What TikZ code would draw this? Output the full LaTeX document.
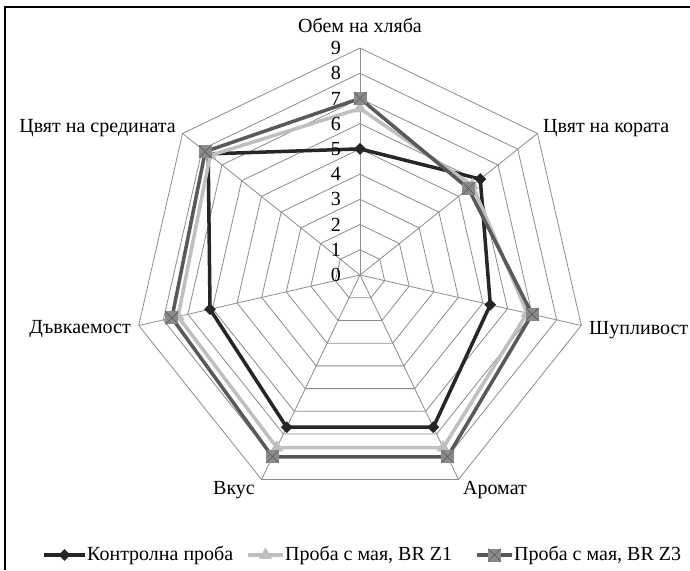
\documentclass[tikz,border=0pt]{standalone}
\usepackage{fontspec}
\setmainfont{Liberation Serif}
\usetikzlibrary{shapes.geometric}
\definecolor{ctrl}{HTML}{262626}
\definecolor{zone}{HTML}{BFBFBF}
\definecolor{zthree}{HTML}{595959}
\definecolor{zmark}{HTML}{8A8A8A}
\definecolor{gridc}{HTML}{8C8C8C}
\tikzset{
  gridline/.style={draw=gridc, line width=0.8pt},
  series/.style={line width=3.5pt, line join=round},
  lbl/.style={font=\fontsize{20}{23}\selectfont, inner sep=0pt},
  diam/.style={diamond, fill=ctrl, minimum size=12pt, inner sep=0pt},
  trim/.style={regular polygon, regular polygon sides=3, fill=zone, minimum size=15pt, inner sep=0pt},
  sqm/.style={rectangle, fill=zmark, minimum size=13pt, inner sep=0pt,
    path picture={\draw[zthree, line width=0.6pt]
      (path picture bounding box.north west) -- (path picture bounding box.south east)
      (path picture bounding box.south west) -- (path picture bounding box.north east);}}
}
\begin{document}
\begin{tikzpicture}[x=1pt,y=1pt]
\useasboundingbox (0,0) rectangle (690,570);
\fill[white] (0,0) rectangle (690,570);
\draw[line width=2pt] (5,0) -- (5,563) -- (690,563);
\begin{scope}[shift={(360,295)}]
  \coordinate (O) at (0,0);
  % grid polygons
  \foreach \l in {1,...,9}{
    \draw[gridline] (90:{\l*25.22})
      \foreach \k in {1,...,6}{ -- ({90-\k*360/7}:{\l*25.22}) } -- cycle;
  }
  \foreach \k in {0,...,6}{
    \coordinate (ax\k) at ({90-\k*360/7}:{9*25.22});
    \draw[gridline] (O) -- (ax\k);
  }
  % data coordinates
  \foreach \k/\v in {0/5,1/6.1,2/5.3,3/6.7,4/6.7,5/6.1,6/7.7}
    \coordinate (c\k) at ({90-\k*360/7}:{\v*25.22});
  \foreach \k/\v in {0/6.6,1/5.7,2/6.8,3/7.6,4/7.6,5/7.4,6/7.6}
    \coordinate (a\k) at ({90-\k*360/7}:{\v*25.22});
  \foreach \k/\v in {0/7.0,1/5.5,2/7.0,3/8.0,4/8.0,5/7.65,6/7.85}
    \coordinate (b\k) at ({90-\k*360/7}:{\v*25.22});
  % series
  \draw[series, ctrl] (c0) -- (c1) -- (c2) -- (c3) -- (c4) -- (c5) -- (c6) -- cycle;
  \foreach \k in {0,...,6} \node[diam] (mc\k) at (c\k) {};
  \draw[series, zone] (a0) -- (a1) -- (a2) -- (a3) -- (a4) -- (a5) -- (a6) -- cycle;
  \foreach \k in {0,...,6} \node[trim] (ma\k) at (a\k) {};
  \draw[series, zthree] (b0) -- (b1) -- (b2) -- (b3) -- (b4) -- (b5) -- (b6) -- cycle;
  \foreach \k in {0,...,6} \node[sqm] (mb\k) at (b\k) {};
\end{scope}
% tick labels
\foreach \l in {0,...,9}
  \node[lbl, anchor=east] (t\l) at (341, {295+\l*25.22}) {\l};
% axis labels
\node[lbl] (l0) at (360,545) {Обем на хляба};
\node[lbl, anchor=west] (l1) at (543,442) {Цвят на кората};
\node[lbl, anchor=west] (l2) at (589,240) {Шупливост};
\node[lbl] (l3) at (495,80) {Аромат};
\node[lbl] (l4) at (234,80) {Вкус};
\node[lbl, anchor=east] (l5) at (131,241) {Дъвкаемост};
\node[lbl, anchor=east] (l6) at (176,442) {Цвят на средината};
% legend
\coordinate (g1a) at (44,15); \coordinate (g1b) at (85,15);
\draw[series, ctrl] (g1a) -- (g1b);
\node[diam] (gm1) at (64.5,15) {};
\node[lbl, anchor=west] (gt1) at (87,15) {Контролна проба};
\coordinate (g2a) at (248,15); \coordinate (g2b) at (283,15);
\draw[series, zone] (g2a) -- (g2b);
\node[trim] (gm2) at (265.5,15) {};
\node[lbl, anchor=west] (gt2) at (285,15) {Проба с мая, BR Z1};
\coordinate (g3a) at (477,15); \coordinate (g3b) at (512,15);
\draw[series, zthree] (g3a) -- (g3b);
\node[sqm] (gm3) at (494.5,15) {};
\node[lbl, anchor=west] (gt3) at (514,15) {Проба с мая, BR Z3};
\end{tikzpicture}
\end{document}
